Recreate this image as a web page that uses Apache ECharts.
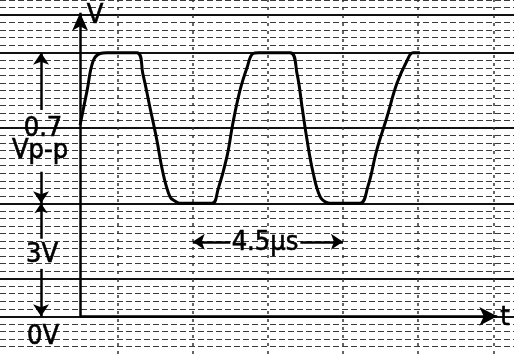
<!DOCTYPE html>
<html><head><meta charset="utf-8">
<script src="https://cdn.jsdelivr.net/npm/echarts@6/dist/echarts.min.js"></script>
<style>html,body{margin:0;padding:0;background:#fff}#c{width:514px;height:354px}</style>
</head><body><div id="c"></div>
<script>
// waveform: time in µs, level in screen divisions (0 = 0V, 1.5 = 3V level, 3.5 = top)
const timeUs = [0,0.21,0.39,0.60,0.80,1.70,1.88,2.09,2.30,2.48,2.69,2.84,3.00,3.95,4.13,4.40,4.58,4.79,5.00,5.18,5.35,6.29,6.50,6.65,6.80,6.98,7.19,7.40,7.55,8.38,8.62,8.89,9.19,9.49,9.79,9.97,10.18];
const level  = [2.54,3.0,3.39,3.49,3.5,3.5,3.22,2.78,2.34,1.91,1.59,1.53,1.5,1.5,1.68,2.12,2.57,3.0,3.30,3.49,3.5,3.5,3.22,2.78,2.34,1.91,1.59,1.51,1.5,1.5,1.72,2.21,2.64,3.09,3.39,3.5,3.5];
const heavyLines = [0, 0.5, 1.5, 2.5, 3.5, 4.0];
const vGrid = [1.125, 3.375, 5.625, 7.875, 10.125, 12.375];
const periodLabel = '4.5µs';
const topLevel = 3.5, lowLevel = 1.5, zeroLevel = 0;
const dimX = -1.17;      // time position of the vertical dimension arrows
const periodStart = 3.375, periodEnd = 7.875, periodY = 0.99;

const chart = echarts.init(document.getElementById('c'));
const FONT = '"DejaVu Sans Condensed","Liberation Sans Narrow",sans-serif';
const txt = (s, x, y, align) => ({type:'text', style:{text:s, x:x, y:y, textAlign:align||'center', textVerticalAlign:'middle', font:'27px ' + FONT, fill:'#000', stroke:'#000', lineWidth:0.6}, z:10});

chart.setOption({
  animation:false,
  grid:{left:0, right:0, top:-1.2, bottom:-2},
  xAxis:{type:'value', min:-2.4, max:13.0, axisLine:{show:false}, axisTick:{show:false}, axisLabel:{show:false}, splitLine:{show:false}},
  yAxis:{type:'value', min:-0.5, max:4.2, interval:0.1, axisLine:{show:false}, axisTick:{show:false}, axisLabel:{show:false},
    splitLine:{show:true, lineStyle:{color:'#3a3a3a', width:1, type:[6,3]}}},
  series:[
    {type:'line', data:[], silent:true,
      markLine:{silent:true, symbol:'none', label:{show:false}, animation:false,
        lineStyle:{color:'#111', width:2, type:'solid'},
        data: heavyLines.map(v => ({yAxis:v}))
          .concat(vGrid.map(v => ({xAxis:v, lineStyle:{color:'#333', width:1.5, type:[3,5]}})))}},
    {type:'line', data:[], silent:true,
      markLine:{silent:true, label:{show:false}, animation:false, symbolSize:14,
        lineStyle:{color:'#000', width:2.5, type:'solid'},
        data:[
          [{coord:[0,0], symbol:'none'},{coord:[12.5,0], symbol:'arrow', symbolSize:[14,18]}],
          [{coord:[0,0], symbol:'none'},{coord:[0,4.03], symbol:'arrow', symbolSize:[12,18]}],
          [{coord:[dimX,topLevel], symbol:'arrow', symbolSize:12},{coord:[dimX,2.74], symbol:'none'}],
          [{coord:[dimX,1.92], symbol:'none'},{coord:[dimX,lowLevel], symbol:'arrow', symbolSize:12}],
          [{coord:[dimX,lowLevel], symbol:'arrow', symbolSize:10},{coord:[dimX,1.03], symbol:'none'}],
          [{coord:[dimX,0.63], symbol:'none'},{coord:[dimX,zeroLevel], symbol:'arrow', symbolSize:12}],
          [{coord:[periodStart,periodY], symbol:'arrow', symbolSize:12},{coord:[4.5,periodY], symbol:'none'}],
          [{coord:[6.6,periodY], symbol:'none'},{coord:[periodEnd,periodY], symbol:'arrow', symbolSize:12}]
        ]}},
    {type:'line', data: timeUs.map((t,i)=>[t, level[i]]), symbol:'none', smooth:0.4,
      lineStyle:{color:'#000', width:3}, z:5}
  ],
  graphic:[
    txt('V', 95, 16),
    txt('0.7', 43, 129),
    txt('Vp-p', 12, 151, 'left'),
    txt('3V', 42, 255),
    txt('0V', 43, 337),
    txt(periodLabel, 265, 243),
    txt('t', 505, 318)
  ]
});
</script></body></html>
